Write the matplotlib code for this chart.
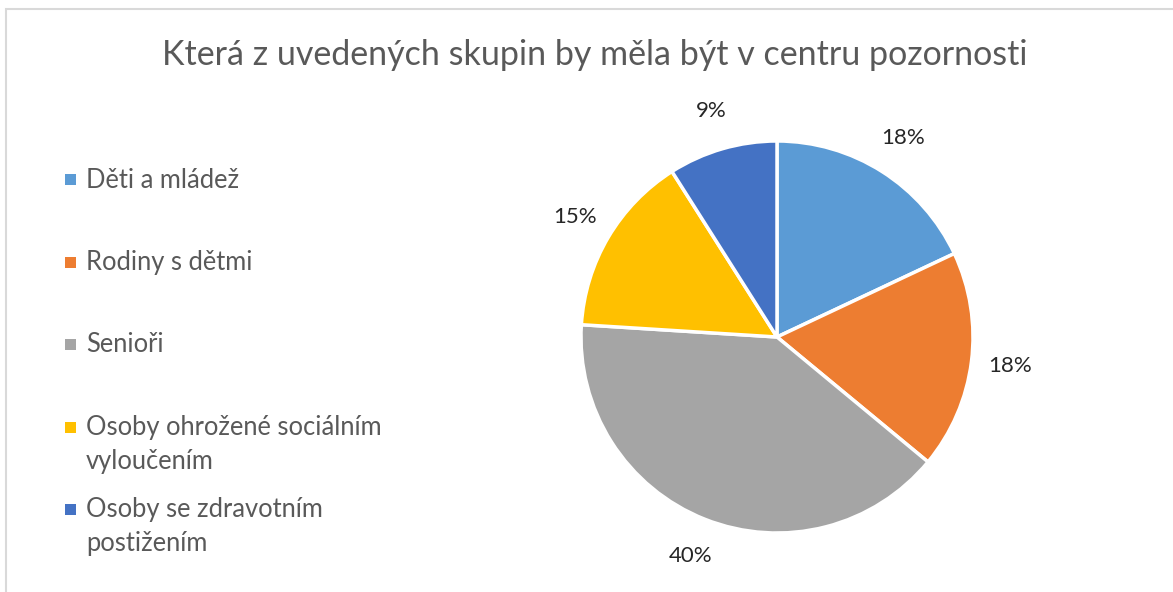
import matplotlib
matplotlib.use("Agg")
import matplotlib.pyplot as plt
from matplotlib.patches import Rectangle

title = "Která z uvedených skupin by měla být v centru pozornosti"
groups = ["Děti a mládež", "Rodiny s dětmi", "Senioři",
          "Osoby ohrožené sociálním\nvyloučením", "Osoby se zdravotním\npostižením"]
shares = [18, 18, 40, 15, 9]
colors = ["#5B9BD5", "#ED7D31", "#A5A5A5", "#FFC000", "#4472C4"]

plt.rcParams['font.family'] = ['Lato', 'DejaVu Sans']

W, H = 1173, 592
fig = plt.figure(figsize=(W / 100, H / 100), dpi=100)

# chart frame (cut off at the right and bottom)
fig.patches.append(Rectangle((6 / W, -0.1), 1.2, 1 - 9 / H + 0.1, transform=fig.transFigure,
                             fill=False, edgecolor='#D9D9D9', linewidth=1.5))

fig.text(595 / W, 1 - 55 / H, title, ha='center', va='center', fontsize=24.5, color='#595959')

# pie: centre at (777, 337) px, radius 196 px
R = 196
cx, cy = 777, 337
side = 3 * R
ax = fig.add_axes([(cx - side / 2) / W, (H - cy - side / 2) / H, side / W, side / H])
ax.pie(shares, colors=colors, startangle=90, counterclock=False, radius=1,
       autopct='%.0f%%', pctdistance=1.2,
       wedgeprops=dict(edgecolor='white', linewidth=2.5),
       textprops=dict(fontsize=16, color='#262626'))
ax.set_xlim(-1.5, 1.5)
ax.set_ylim(-1.5, 1.5)
ax.set_aspect('equal')
ax.axis('off')

# legend (one text per line so the marker sits on the first line)
rows = [180, 262, 344, 427, 509]
for g, c, y in zip(groups, colors, rows):
    fig.patches.append(Rectangle((65 / W, 1 - (y + 5.5) / H), 11 / W, 11 / H,
                                 transform=fig.transFigure, facecolor=c, edgecolor='none'))
    for i, line in enumerate(g.split("\n")):
        fig.text(86 / W, 1 - (y + 8 + 34 * i) / H, line, ha='left', va='baseline',
                 fontsize=18.4, color='#595959')

fig.savefig("out.png", dpi=100)
